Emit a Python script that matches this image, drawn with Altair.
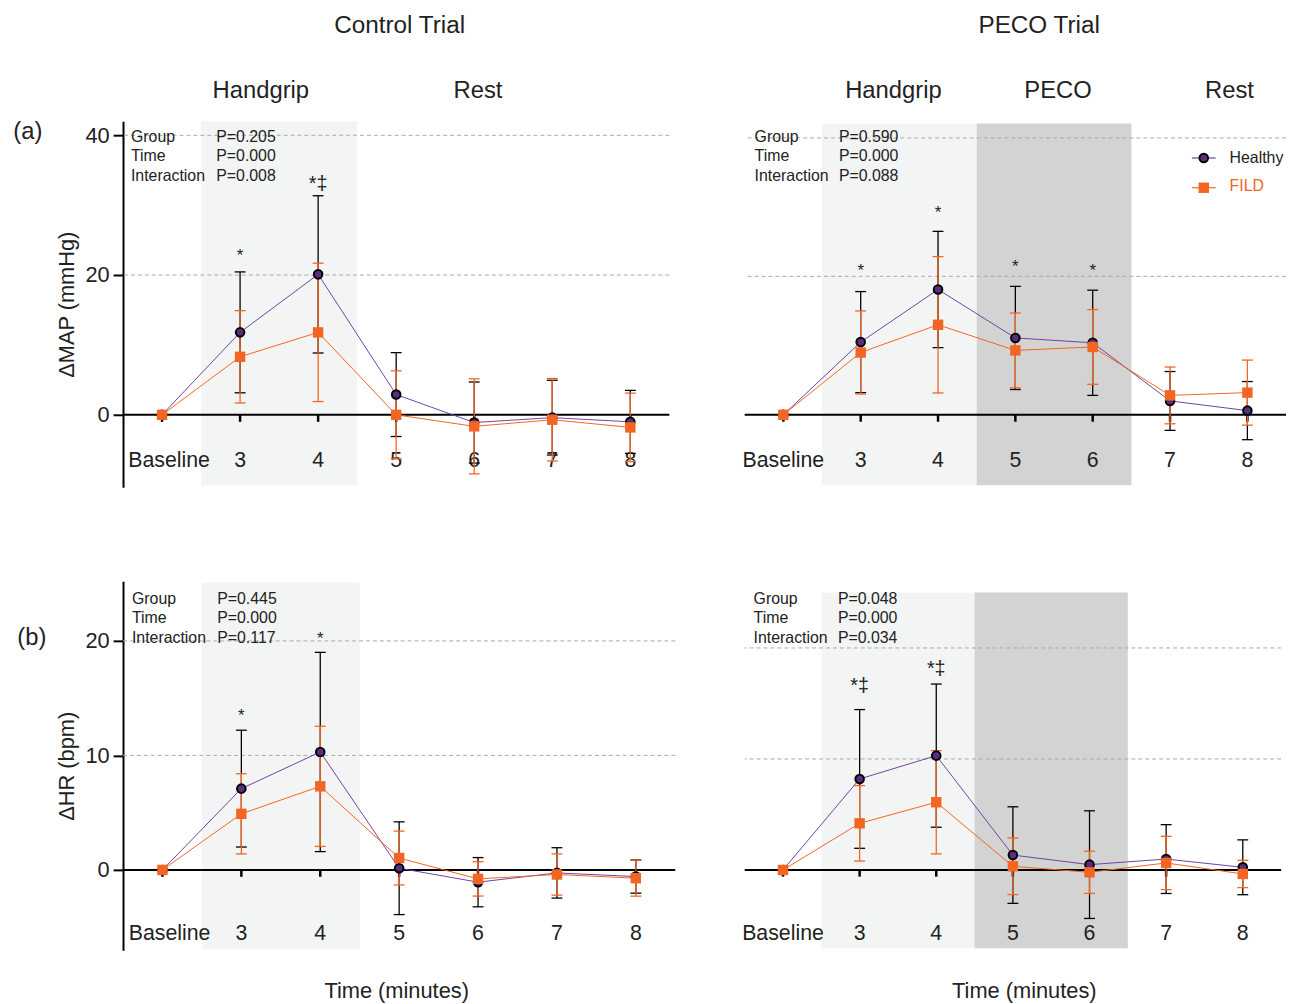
import altair as alt
import pandas as pd

FONT = "Liberation Sans"
PURPLE_FILL = "#5a2d82"
PURPLE_LINE = "#6f43a3"
ORANGE = "#f26522"
LIGHT = "#f3f5f4"
DARK = "#d3d3d3"
TXT = "#222222"

labels = ["Baseline", "3", "4", "5", "6", "7", "8"]
positions = [0, 1, 2, 3, 4, 5, 6]
stat_names = ["Group", "Time", "Interaction"]

# (a) MAP, Control trial
map_ctrl_h_mean = [0, 11.8, 20.1, 2.9, -1.1, -0.4, -1.0]
map_ctrl_h_sd = [0, 8.65, 11.25, 6.0, 5.8, 5.35, 4.5]
map_ctrl_f_mean = [0, 8.3, 11.8, 0.0, -1.65, -0.7, -1.8]
map_ctrl_f_sd = [0, 6.6, 9.9, 6.3, 6.8, 5.9, 4.9]
map_ctrl_p = ["P=0.205", "P=0.000", "P=0.008"]
map_ctrl_star_pos = [1, 2]
map_ctrl_star_y = [22.0, 32.2]
map_ctrl_star_txt = ["*", "*‡"]

# (a) MAP, PECO trial
map_peco_h_mean = [0, 10.5, 18.1, 11.1, 10.4, 2.0, 0.6]
map_peco_h_sd = [0, 7.3, 8.4, 7.45, 7.6, 4.25, 4.2]
map_peco_f_mean = [0, 9.0, 13.0, 9.3, 9.8, 2.8, 3.2]
map_peco_f_sd = [0, 6.0, 9.85, 5.4, 5.4, 4.1, 4.7]
map_peco_p = ["P=0.590", "P=0.000", "P=0.088"]
map_peco_star_pos = [1, 2, 3, 4]
map_peco_star_y = [20.0, 28.4, 20.6, 20.0]
map_peco_star_txt = ["*", "*", "*", "*"]

# (b) HR, Control trial
hr_ctrl_h_mean = [0, 7.1, 10.3, 0.15, -1.07, -0.26, -0.58]
hr_ctrl_h_sd = [0, 5.1, 8.7, 4.05, 2.15, 2.2, 1.45]
hr_ctrl_f_mean = [0, 4.9, 7.3, 1.04, -0.78, -0.4, -0.72]
hr_ctrl_f_sd = [0, 3.5, 5.25, 2.35, 1.5, 1.8, 1.57]
hr_ctrl_p = ["P=0.445", "P=0.000", "P=0.117"]
hr_ctrl_star_pos = [1, 2]
hr_ctrl_star_y = [13.0, 19.7]
hr_ctrl_star_txt = ["*", "*"]

# (b) HR, PECO trial
hr_peco_h_mean = [0, 8.2, 10.3, 1.34, 0.48, 0.98, 0.24]
hr_peco_h_sd = [0, 6.25, 6.45, 4.35, 4.85, 3.1, 2.47]
hr_peco_f_mean = [0, 4.2, 6.1, 0.33, -0.21, 0.63, -0.36]
hr_peco_f_sd = [0, 3.4, 4.65, 2.55, 1.9, 2.4, 1.23]
hr_peco_p = ["P=0.048", "P=0.000", "P=0.034"]
hr_peco_star_pos = [1, 2]
hr_peco_star_y = [16.0, 17.6]
hr_peco_star_txt = ["*‡", "*‡"]

one = pd.DataFrame({"k": [0]})


def panel(hm, hs, fm, fs, star_pos, star_y, star_txt, pvals, domain, width, height,
          grid_vals, shade_x0, shade_x1, shade_col, shade_top, shade_bot,
          tick_units, label_dy, stats_x, stats_top, base_shift=0.0,
          ytitle=None, yticks=None):
    ysc = alt.Scale(domain=domain, nice=False, zero=False)
    if ytitle is not None:
        yax = alt.Axis(values=yticks, title=ytitle, grid=False, domainColor="black",
                       domainWidth=2, tickColor="black", tickWidth=2, tickSize=10,
                       labelFontSize=22, labelFont=FONT, labelColor=TXT, labelPadding=4,
                       titleFontSize=22, titleFont=FONT, titleFontWeight="normal",
                       titleColor=TXT, titlePadding=6)
    else:
        yax = None
    xsc = alt.Scale(domain=[-0.5, 6.5], nice=False, zero=False)

    def X(f):
        return alt.X(f, type="quantitative", scale=xsc, axis=None)

    def Y(f):
        return alt.Y(f, type="quantitative", scale=ysc, axis=yax)

    df = pd.DataFrame({"pos": positions, "label": labels, "hm": hm, "hs": hs,
                       "fm": fm, "fs": fs})
    calc = alt.Chart(df).transform_calculate(
        zero="0",
        tick_end=str(-tick_units),
        lx=f"datum.pos == 0 ? {base_shift} : datum.pos",
        h_lo="datum.hm - datum.hs", h_hi="datum.hm + datum.hs",
        f_lo="datum.fm - datum.fs", f_hi="datum.fm + datum.fs",
    )

    sdf = pd.DataFrame({"x0": shade_x0, "x1": shade_x1, "c": shade_col,
                        "y0": [shade_top] * len(shade_x0), "y1": [shade_bot] * len(shade_x0)})
    shade = alt.Chart(sdf).mark_rect().encode(
        x=X("x0"), x2="x1", y=Y("y0"), y2="y1", color=alt.Color("c:N", scale=None))

    grid = alt.Chart(pd.DataFrame({"g": grid_vals})).mark_rule(
        strokeDash=[4, 3], color="#a8a8a8", strokeWidth=1).encode(y=Y("g"))

    xlabels = calc.mark_text(fontSize=21.5, font=FONT, color=TXT, dy=label_dy).encode(
        x=X("lx"), y=Y("zero"), text="label:N")

    zero_line = alt.Chart(one).transform_calculate(zero="0").mark_rule(
        color="black", strokeWidth=2).encode(y=Y("zero"))

    ticks = calc.mark_rule(color="black", strokeWidth=2.5).encode(
        x=X("pos"), y=Y("zero"), y2="tick_end")

    hf = calc.transform_filter("datum.hs > 0")
    ff = calc.transform_filter("datum.fs > 0")
    h_err = hf.mark_rule(color="black", strokeWidth=1.3).encode(
        x=X("pos"), y=Y("h_lo"), y2="h_hi")
    h_caps = hf.transform_fold(["h_lo", "h_hi"], as_=["which", "v"]).mark_tick(
        orient="horizontal", size=11, thickness=1.3, color="black", opacity=1).encode(
        x=X("pos"), y=Y("v"))
    f_err = ff.mark_rule(color=ORANGE, strokeWidth=1.3).encode(
        x=X("pos"), y=Y("f_lo"), y2="f_hi")
    f_caps = ff.transform_fold(["f_lo", "f_hi"], as_=["which", "v"]).mark_tick(
        orient="horizontal", size=11, thickness=1.3, color=ORANGE, opacity=1).encode(
        x=X("pos"), y=Y("v"))

    h_line = calc.mark_line(color=PURPLE_LINE, strokeWidth=1).encode(x=X("pos"), y=Y("hm"))
    f_line = calc.mark_line(color=ORANGE, strokeWidth=1).encode(x=X("pos"), y=Y("fm"))
    h_pts = calc.mark_point(shape="circle", filled=True, fill=PURPLE_FILL, stroke="black",
                            strokeWidth=2, size=75, opacity=1).encode(x=X("pos"), y=Y("hm"))
    f_pts = calc.mark_point(shape="square", filled=True, color=ORANGE, size=110,
                            opacity=1).encode(x=X("pos"), y=Y("fm"))

    stars_df = pd.DataFrame({"pos": star_pos, "y": star_y, "t": star_txt})
    stars = alt.Chart(stars_df).mark_text(
        font=FONT, color=TXT, baseline="alphabetic").encode(
        x=X("pos"), y=Y("y"), text="t:N",
        size=alt.condition("length(datum.t) > 1", alt.value(20), alt.value(17)))

    stat_a = alt.Chart(one).mark_text(
        align="left", baseline="top", fontSize=16, font=FONT, color=TXT,
        lineBreak="\n", lineHeight=19.5).encode(
        x=alt.value(stats_x[0]), y=alt.value(stats_top), text=alt.value("\n".join(stat_names)))
    stat_b = alt.Chart(one).mark_text(
        align="left", baseline="top", fontSize=16, font=FONT, color=TXT,
        lineBreak="\n", lineHeight=19.5).encode(
        x=alt.value(stats_x[1]), y=alt.value(stats_top), text=alt.value("\n".join(pvals)))

    layers = [shade, grid, xlabels, zero_line, ticks, h_err, h_caps, f_err, f_caps,
              h_line, f_line, h_pts, f_pts, stars, stat_a, stat_b]
    return layers, width, height


def txt(text, x, y, size, color=TXT, align="center", baseline="middle"):
    return alt.Chart(one).mark_text(fontSize=size, font=FONT, color=color, align=align,
                                    baseline=baseline).encode(
        x=alt.value(x), y=alt.value(y), text=alt.value(text))


# ---- top-left
l, w, h = panel(map_ctrl_h_mean, map_ctrl_h_sd, map_ctrl_f_mean, map_ctrl_f_sd,
                map_ctrl_star_pos, map_ctrl_star_y, map_ctrl_star_txt, map_ctrl_p,
                [-10.35, 42.0], 551, 369, [20, 40],
                [0.5], [2.5], [LIGHT], 42.0, -10.1, 1.0, 47, (8, 94), 8, base_shift=0.09,
                ytitle="ΔMAP (mmHg)", yticks=[0, 20, 40])
l += [txt("Control Trial", 279, -89.5, 24.5, baseline="alphabetic"),
      txt("Handgrip", 139, -30, 24),
      txt("Rest", 358, -30, 24), txt("(a)", -96, 11, 24)]
tl = alt.layer(*l).properties(width=w, height=h)

# ---- top-right
l, w, h = panel(map_peco_h_mean, map_peco_h_sd, map_peco_f_mean, map_peco_f_sd,
                map_peco_star_pos, map_peco_star_y, map_peco_star_txt, map_peco_p,
                [-10.46, 42.4], 546, 369, [20, 40],
                [0.5, 2.5], [2.5, 4.5], [LIGHT, DARK], 42.1, -10.2, 1.0, 47, (10, 95), 8)
l += [txt("PECO Trial", 297, -89.5, 24.5, baseline="alphabetic"),
      txt("Handgrip", 150, -30, 24),
      txt("PECO", 316, -30, 24), txt("Rest", 489, -30, 24),
      alt.Chart(one).mark_rule(color=PURPLE_LINE, strokeWidth=1.2).encode(
          x=alt.value(451), x2=alt.value(475), y=alt.value(37)),
      alt.Chart(one).mark_rule(color=ORANGE, strokeWidth=1.2).encode(
          x=alt.value(451), x2=alt.value(475), y=alt.value(67)),
      alt.Chart(one).mark_point(shape="circle", filled=True, fill=PURPLE_FILL, stroke="black",
                                strokeWidth=2, size=75, opacity=1).encode(
          x=alt.value(463), y=alt.value(37)),
      alt.Chart(one).mark_point(shape="square", filled=True, color=ORANGE, size=110,
                                opacity=1).encode(x=alt.value(463), y=alt.value(67)),
      txt("Healthy", 489, 37, 16, align="left"),
      txt("FILD", 489, 65, 16, color=ORANGE, align="left")]
tr = alt.layer(*l).properties(width=w, height=h)

# ---- bottom-left
l, w, h = panel(hr_ctrl_h_mean, hr_ctrl_h_sd, hr_ctrl_f_mean, hr_ctrl_f_sd,
                hr_ctrl_star_pos, hr_ctrl_star_y, hr_ctrl_star_txt, hr_ctrl_p,
                [-7.01, 25.2], 557, 372, [10, 20],
                [0.5], [2.5], [LIGHT], 25.1, -6.95, 0.6, 65, (9, 95), 10, base_shift=0.09,
                ytitle="ΔHR (bpm)", yticks=[0, 10, 20])
l += [txt("(b)", -92, 57, 24), txt("Time (minutes)", 276, 413, 22)]
bl = alt.layer(*l).properties(width=w, height=h)

# ---- bottom-right
l, w, h = panel(hr_peco_h_mean, hr_peco_h_sd, hr_peco_f_mean, hr_peco_f_sd,
                hr_peco_star_pos, hr_peco_star_y, hr_peco_star_txt, hr_peco_p,
                [-7.23, 26.0], 541, 372, [10, 20],
                [0.5, 2.5], [2.5, 4.5], [LIGHT, DARK], 25.0, -7.05, 0.6, 65, (9, 94), 10)
l += [txt("Time (minutes)", 282, 413, 22)]
br = alt.layer(*l).properties(width=w, height=h)

chart = alt.concat(tl, tr, bl, br, columns=2, spacing={"row": 95, "column": 70},
                   bounds="flush").configure_view(
    stroke=None).properties(padding={"left": 5, "top": 0, "right": 5, "bottom": 0})

chart.save("out.html", embed_options={"renderer": "svg", "actions": False})
